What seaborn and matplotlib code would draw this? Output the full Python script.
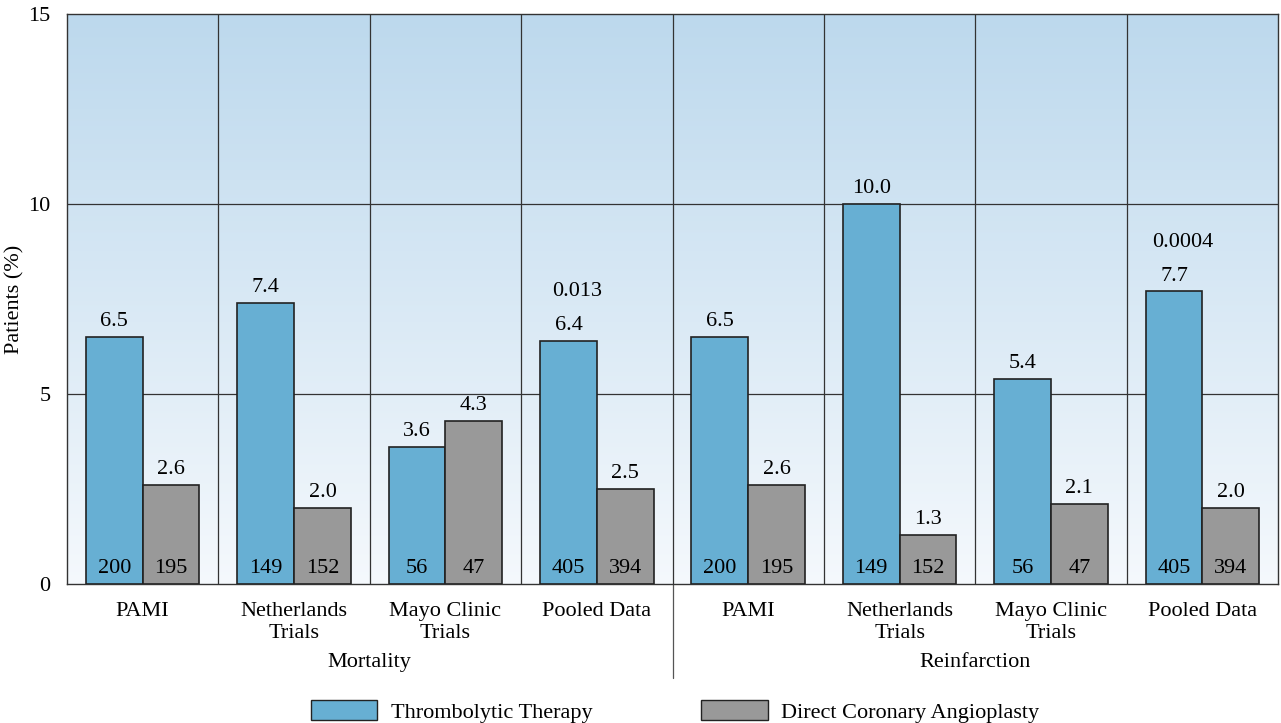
import numpy as np
import pandas as pd
import matplotlib.pyplot as plt
import matplotlib.patches as mpatches
import seaborn as sns

# data
studies = ["PAMI", "Netherlands\nTrials", "Mayo Clinic\nTrials", "Pooled Data",
           "PAMI", "Netherlands\nTrials", "Mayo Clinic\nTrials", "Pooled Data"]
outcomes = ["Mortality", "Reinfarction"]
thrombolytic = [6.5, 7.4, 3.6, 6.4, 6.5, 10.0, 5.4, 7.7]
angioplasty = [2.6, 2.0, 4.3, 2.5, 2.6, 1.3, 2.1, 2.0]
n_thrombolytic = [200, 149, 56, 405, 200, 149, 56, 405]
n_angioplasty = [195, 152, 47, 394, 195, 152, 47, 394]
p_values = {3: "0.013", 7: "0.0004"}
treatments = ["Thrombolytic Therapy", "Direct Coronary Angioplasty"]
colors = ["#67afd3", "#999999"]

df = pd.DataFrame({
    "slot": list(range(8)) * 2,
    "pct": thrombolytic + angioplasty,
    "n": n_thrombolytic + n_angioplasty,
    "treatment": [treatments[0]] * 8 + [treatments[1]] * 8,
})

sns.set_style("white")
plt.rcParams["font.family"] = ["Liberation Serif", "DejaVu Serif"]
plt.rcParams["text.color"] = "black"
plt.rcParams["xtick.color"] = "black"
plt.rcParams["ytick.color"] = "black"
plt.rcParams["axes.labelcolor"] = "black"
fs = 16

fig = plt.figure(figsize=(12.81, 7.23), dpi=100)
ax = fig.add_axes([0.0523, 0.1923, 0.9454, 0.7883])

# gradient background
grad = np.linspace(0, 1, 256).reshape(-1, 1)
top = np.array([0.74, 0.85, 0.93])
bot = np.array([0.96, 0.975, 0.99])
img = top + (bot - top) * grad[:, :, None]
ax.imshow(img[::-1], extent=(-0.5, 7.5, 0, 15), aspect="auto", origin="lower", zorder=0)

sns.barplot(data=df, x="slot", y="pct", hue="treatment", hue_order=treatments,
            palette=colors, width=0.75, edgecolor="#222222",
            linewidth=1.2, saturation=1, errorbar=None, legend=False, ax=ax, zorder=3)

ax.set_xlim(-0.5, 7.5)
ax.set_ylim(0, 15)
ax.set_yticks([0, 5, 10, 15])
ax.set_yticklabels(["0", "5", "10", "15"], fontsize=fs)
ax.set_xticks(range(8))
ax.set_xticklabels(studies, fontsize=fs, linespacing=1.2)
ax.tick_params(axis="x", length=0, pad=13)
ax.tick_params(axis="y", length=0, pad=12)
ax.set_xlabel("")
ax.set_ylabel("")
fig.text(15 / 1281, 0.5864, "Patients (%)", rotation=90, ha="center", va="center", fontsize=fs)

# grid
for y in [5, 10]:
    ax.axhline(y, color="#333333", lw=0.9, zorder=1)
for x in np.arange(0.5, 7.5, 1):
    ax.axvline(x, color="#333333", lw=0.9, zorder=1)
for s in ax.spines.values():
    s.set_color("#333333")
    s.set_linewidth(1.0)

# labels
off = 0.1875
for i in range(8):
    ax.text(i - off, thrombolytic[i] + 0.4, f"{thrombolytic[i]:.1f}", ha="center", va="center", fontsize=fs, zorder=5)
    ax.text(i + off, angioplasty[i] + 0.4, f"{angioplasty[i]:.1f}", ha="center", va="center", fontsize=fs, zorder=5)
    ax.text(i - off, 0.4, str(n_thrombolytic[i]), ha="center", va="center", fontsize=fs, zorder=5)
    ax.text(i + off, 0.4, str(n_angioplasty[i]), ha="center", va="center", fontsize=fs, zorder=5)
for i, p in p_values.items():
    ax.text(i - off + 0.06, thrombolytic[i] + 1.3, p, ha="center", va="center", fontsize=fs, zorder=5)

# outcome group labels and separator
ax.text(1.5, -2.08, outcomes[0], ha="center", va="center", fontsize=fs, clip_on=False)
ax.text(5.5, -2.08, outcomes[1], ha="center", va="center", fontsize=fs, clip_on=False)
ax.plot([3.5, 3.5], [0, -2.47], color="#555555", lw=0.9, clip_on=False)

handles = [mpatches.Patch(facecolor=c, edgecolor="#222222", label=t)
           for c, t in zip(colors, treatments)]
fig.legend(handles=handles, loc="lower center", bbox_to_anchor=(0.527, -0.027), ncol=2,
           frameon=False, fontsize=fs, handlelength=3.0, handleheight=1.05,
           handletextpad=0.6, columnspacing=4.9)

fig.savefig("out.png", dpi=100)
